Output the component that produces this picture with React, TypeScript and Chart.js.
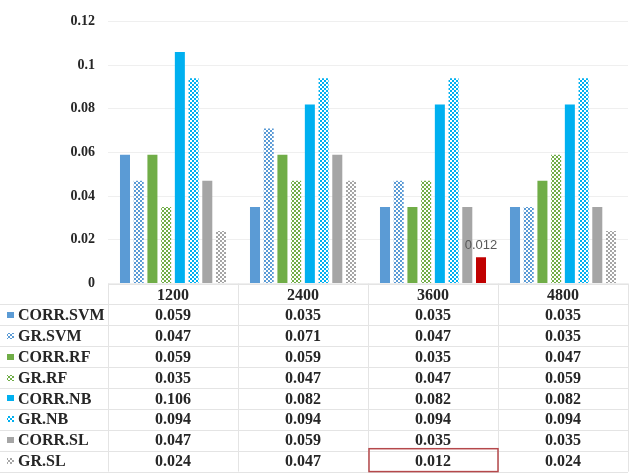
import { useEffect, useRef } from "react";
import { Chart, registerables } from "chart.js";

Chart.register(...registerables);

// Sample sizes (categories along the x axis / table header)
const categories = ["1200", "2400", "3600", "4800"];

// Series values, one per category
const corrSvm = [0.059, 0.035, 0.035, 0.035];
const grSvm = [0.047, 0.071, 0.047, 0.035];
const corrRf = [0.059, 0.059, 0.035, 0.047];
const grRf = [0.035, 0.047, 0.047, 0.059];
const corrNb = [0.106, 0.082, 0.082, 0.082];
const grNb = [0.094, 0.094, 0.094, 0.094];
const corrSl = [0.047, 0.059, 0.035, 0.035];
const grSl = [0.024, 0.047, 0.012, 0.024];

const seriesNames = ["CORR.SVM", "GR.SVM", "CORR.RF", "GR.RF", "CORR.NB", "GR.NB", "CORR.SL", "GR.SL"];
const seriesValues = [corrSvm, grSvm, corrRf, grRf, corrNb, grNb, corrSl, grSl];

// Value axis
const yMin = 0;
const yMax = 0.12;
const yStep = 0.02;

// The GR.SL value at 3600 is emphasised in red, labelled, and boxed in the table
const highlightSeries = "GR.SL";
const highlightCategory = "3600";

const SERIF = "'Liberation Serif', 'Times New Roman', serif";
const TEXT = "#262626";

const baseColors = ["#5B9BD5", "#5B9BD5", "#70AD47", "#70AD47", "#00B0F0", "#00B0F0", "#A5A5A5", "#A5A5A5"];
const patterned = [false, true, false, true, false, true, false, true];

function makeChecker(color: string): CanvasPattern | string {
  const c = document.createElement("canvas");
  c.width = 4;
  c.height = 4;
  const g = c.getContext("2d");
  if (!g) return color;
  g.fillStyle = "#ffffff";
  g.fillRect(0, 0, 4, 4);
  g.fillStyle = color;
  g.fillRect(0, 0, 2, 2);
  g.fillRect(2, 2, 2, 2);
  const p = g.createPattern(c, "repeat");
  return p || color;
}

const ROW_H = 20.9;

export default function App() {
  const ref = useRef<HTMLCanvasElement | null>(null);

  useEffect(() => {
    const canvas = ref.current;
    if (!canvas) return;

    const fills = baseColors.map((c, i) => (patterned[i] ? makeChecker(c) : c));
    const hiSeries = seriesNames.indexOf(highlightSeries);
    const hiCat = categories.indexOf(highlightCategory);

    const datasets = seriesNames.map((name, i) => ({
      label: name,
      data: seriesValues[i],
      backgroundColor: seriesValues[i].map((_, j) => (i === hiSeries && j === hiCat ? "#C00000" : fills[i])),
      borderWidth: 0,
      categoryPercentage: 0.844,
      barPercentage: 0.73,
    }));

    // Data table below the plot, plus the value label on the highlighted bar
    const tablePlugin = {
      id: "dataTable",
      afterDraw(chart: any) {
        const ctx = chart.ctx as CanvasRenderingContext2D;
        const area = chart.chartArea;
        const xs = chart.scales.x;
        const top = area.bottom;
        const right = area.right;
        const nRows = seriesNames.length + 1;
        ctx.save();

        // grid lines of the table
        ctx.strokeStyle = "#e4e4e4";
        ctx.lineWidth = 1;
        for (let k = 0; k <= nRows; k++) {
          const y = Math.round(top + k * ROW_H) + 0.5;
          ctx.beginPath();
          ctx.moveTo(k === 0 ? area.left : 0, y);
          ctx.lineTo(right, y);
          ctx.stroke();
        }
        const colW = (area.right - area.left) / categories.length;
        for (let i = 0; i <= categories.length; i++) {
          const x = Math.round(area.left + i * colW) + 0.5;
          ctx.beginPath();
          ctx.moveTo(x, top);
          ctx.lineTo(x, top + nRows * ROW_H);
          ctx.stroke();
        }

        // rows: legend key, series name, values
        ctx.textBaseline = "middle";
        ctx.font = `bold 16px ${SERIF}`;
        seriesNames.forEach((name, i) => {
          const cy = top + (i + 1.5) * ROW_H;
          ctx.fillStyle = fills[i] as any;
          ctx.fillRect(7, Math.round(cy) - 3, 7, 6);
          ctx.fillStyle = TEXT;
          ctx.textAlign = "left";
          ctx.fillText(name, 18, cy + 1);
          ctx.textAlign = "center";
          seriesValues[i].forEach((v, j) => {
            ctx.fillText(v.toFixed(3), xs.getPixelForValue(j), cy + 1);
          });
        });

        // highlighted cell outline
        if (hiSeries >= 0 && hiCat >= 0) {
          const cx0 = area.left + hiCat * colW;
          const cy0 = top + (hiSeries + 1) * ROW_H;
          ctx.strokeStyle = "#B5484B";
          ctx.lineWidth = 1.5;
          ctx.strokeRect(cx0 + 1, cy0 - 2, colW - 1, ROW_H + 2);

          // value label over the highlighted bar
          const bar = chart.getDatasetMeta(hiSeries).data[hiCat];
          ctx.fillStyle = "#595959";
          ctx.font = "13px 'Liberation Sans', Arial, sans-serif";
          ctx.textAlign = "center";
          ctx.textBaseline = "bottom";
          ctx.fillText(seriesValues[hiSeries][hiCat].toFixed(3), bar.x, bar.y - 5);
        }
        ctx.restore();
      },
    };

    const chart = new Chart(canvas, {
      type: "bar",
      data: { labels: categories, datasets },
      plugins: [tablePlugin],
      options: {
        animation: false,
        responsive: false,
        devicePixelRatio: 1,
        layout: { padding: { top: 14, right: 1, left: 0, bottom: 474 - 283.5 - ROW_H } },
        plugins: { legend: { display: false }, tooltip: { enabled: false } },
        scales: {
          x: {
            grid: { display: false, drawTicks: false },
            border: { display: false },
            ticks: { color: TEXT, font: { family: SERIF, size: 16, weight: "bold" }, padding: 3 },
            afterFit: (s: any) => {
              s.height = ROW_H;
            },
          },
          y: {
            min: yMin,
            max: yMax,
            grid: { color: "#efefef", drawTicks: false },
            border: { display: false },
            ticks: {
              stepSize: yStep,
              padding: 13,
              color: TEXT,
              font: { family: SERIF, size: 14, weight: "bold" },
              callback: (v: any) => String(parseFloat(Number(v).toFixed(3))),
            },
            afterFit: (s: any) => {
              s.width = 108;
            },
          },
        },
      },
    });
    return () => chart.destroy();
  }, []);

  return (
    <div style={{ position: "absolute", left: 0, top: 0, width: 629, height: 474, background: "#fff" }}>
      <canvas ref={ref} width={629} height={474} style={{ display: "block" }} />
    </div>
  );
}
